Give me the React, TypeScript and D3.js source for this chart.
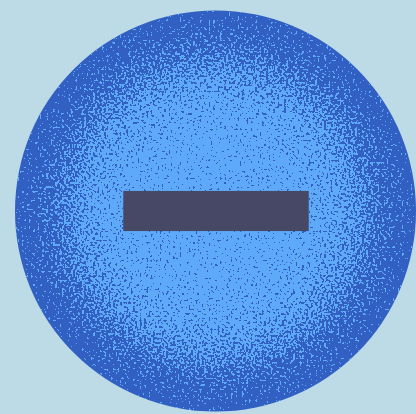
import React from "react";
import * as d3 from "d3";

const W = 416;
const H = 414;
// sign geometry in unit coordinates (circle radius = 1)
const circleCenter = [0, 0];
const circleRadius = [1];
const barX = [-0.46, 0.465];
const barY = [-0.1, 0.1];
// density of light speckles by radial offset
const densityOffsets = [0, 0.4, 0.55, 0.7, 0.82, 0.92, 1];
const densityValues = [0.95, 0.92, 0.82, 0.58, 0.32, 0.14, 0.04];

export default function App() {
  const cx = 215.5, cy = 211, r = 200.5;
  const x = d3.scaleLinear().domain([-1, 1]).range([cx - r, cx + r]);
  const y = d3.scaleLinear().domain([-1, 1]).range([cy - r, cy + r]);
  const rad = x(circleRadius[0]) - x(0);
  return (
    <svg width={W} height={H} style={{ position: "absolute", left: 0, top: 0 }}>
      <defs>
        <radialGradient id="dens" cx="50%" cy="50%" r="50%">
          {densityOffsets.map((o, i) => (
            <stop key={i} offset={o} stopColor="#fff" stopOpacity={densityValues[i]} />
          ))}
        </radialGradient>
        <clipPath id="cc">
          <circle cx={x(circleCenter[0])} cy={y(circleCenter[1])} r={rad} />
        </clipPath>
        <filter id="speck" x="0" y="0" width={W} height={H} filterUnits="userSpaceOnUse" colorInterpolationFilters="sRGB">
          <feTurbulence type="fractalNoise" baseFrequency="0.45" numOctaves={1} seed={3} result="n" />
          <feColorMatrix in="n" type="matrix"
            values="0 0 0 0 0  0 0 0 0 0  0 0 0 0 0  2.6 0 0 0 -0.8" result="na" />
          <feComposite in="SourceGraphic" in2="na" operator="arithmetic" k1={0} k2={1} k3={-1} k4={0.5} result="d" />
          <feComponentTransfer in="d" result="t">
            <feFuncA type="discrete" tableValues="0 1" />
          </feComponentTransfer>
          <feFlood floodColor="#5eaaf8" result="f" />
          <feComposite in="f" in2="t" operator="in" />
        </filter>
      </defs>
      <rect width={W} height={H} fill="#bddbe6" />
      <circle cx={x(circleCenter[0])} cy={y(circleCenter[1])} r={rad} fill="#3160c2" />
      <g clipPath="url(#cc)">
        <circle cx={x(circleCenter[0])} cy={y(circleCenter[1])} r={rad} fill="url(#dens)" filter="url(#speck)" />
      </g>
      <rect x={x(barX[0])} y={y(barY[0])} width={x(barX[1]) - x(barX[0])} height={y(barY[1]) - y(barY[0])} fill="#474766" />
    </svg>
  );
}
